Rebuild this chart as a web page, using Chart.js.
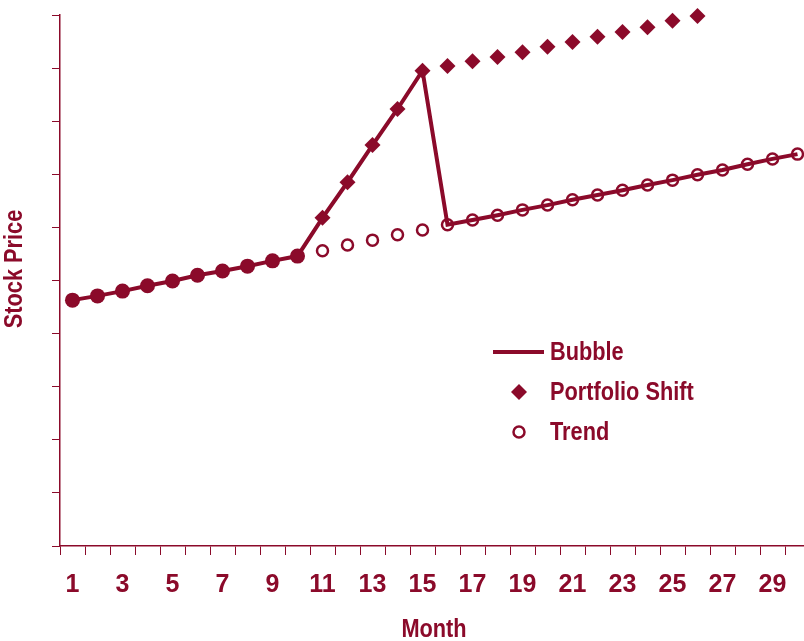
<!DOCTYPE html>
<html lang="en">

<head>
    <meta charset="UTF-8">
    <title>Stock Price Bubble</title>
    <script src="https://cdn.jsdelivr.net/npm/chart.js"></script>
    <style>
        body { margin: 0; overflow: hidden; background: #fff; }
        /* plot runs a few pixels past the right edge, as in the original */
        #wrap { width: 804px; height: 641px; overflow: hidden; }
    </style>
</head>

<body>
    <div id="wrap">
        <canvas id="stockChart" width="810" height="641"></canvas>
    </div>

    <script>
        // chart data
        var months = ['1', '2', '3', '4', '5', '6', '7', '8', '9', '10',
            '11', '12', '13', '14', '15', '16', '17', '18', '19', '20',
            '21', '22', '23', '24', '25', '26', '27', '28', '29', '30'];

        var bubble = [4.63, 4.71, 4.80, 4.90, 4.99, 5.10, 5.18, 5.27, 5.37, 5.46,
            6.18, 6.85, 7.55, 8.23, 8.95, 6.05, 6.14, 6.23, 6.33, 6.42,
            6.52, 6.61, 6.70, 6.80, 6.89, 6.99, 7.08, 7.19, 7.29, 7.38];

        var portfolioShift = [null, null, null, null, null, null, null, null, null, null,
            6.18, 6.85, 7.55, 8.23, 8.95, 9.04, 9.13, 9.21, 9.30, 9.40,
            9.49, 9.59, 9.68, 9.77, 9.89, 9.98, null, null, null, null];

        var trend = [4.63, 4.71, 4.80, 4.90, 4.99, 5.10, 5.18, 5.27, 5.37, 5.46,
            5.56, 5.67, 5.76, 5.86, 5.95, 6.05, 6.14, 6.23, 6.33, 6.42,
            6.52, 6.61, 6.70, 6.80, 6.89, 6.99, 7.08, 7.19, 7.29, 7.38];

        var maroon = '#8B0A2A';
        var fontFamily = "'Liberation Sans Narrow', 'Arial Narrow', 'Liberation Sans', sans-serif";
        var squeeze = 0.87; // no narrow font installed, so text is squeezed by hand

        // filled dots only on the first 10 months of the bubble line
        var bubbleRadius = bubble.map(function (v, i) { return i < 10 ? 7.5 : 0; });

        function narrowText(ctx, text, x, y, rotate) {
            ctx.save();
            ctx.translate(x, y);
            if (rotate) ctx.rotate(-Math.PI / 2);
            ctx.scale(squeeze, 1);
            ctx.fillText(text, 0, 0);
            ctx.restore();
        }

        // axis titles
        var titlesPlugin = {
            id: 'axisTitles',
            afterDraw: function (chart) {
                var ctx = chart.ctx;
                var area = chart.chartArea;
                ctx.save();
                ctx.fillStyle = maroon;
                ctx.font = 'bold 25px ' + fontFamily;
                ctx.textAlign = 'center';
                ctx.textBaseline = 'middle';
                narrowText(ctx, 'Stock Price', 15, 269, true);
                narrowText(ctx, 'Month', (area.left + area.right) / 2 - 1, 630, false);
                ctx.restore();
            }
        };

        // legend inside the plot
        var legendPlugin = {
            id: 'innerLegend',
            afterDraw: function (chart) {
                var ctx = chart.ctx;
                ctx.save();
                ctx.fillStyle = maroon;
                ctx.strokeStyle = maroon;

                ctx.lineWidth = 4;
                ctx.beginPath();
                ctx.moveTo(493, 352);
                ctx.lineTo(544, 352);
                ctx.stroke();

                Chart.helpers.drawPoint(ctx, { pointStyle: 'rectRot', radius: 8, borderWidth: 0 }, 519, 392);

                ctx.lineWidth = 2.5;
                ctx.beginPath();
                ctx.arc(519, 432, 5.5, 0, Math.PI * 2);
                ctx.stroke();

                ctx.font = 'bold 25px ' + fontFamily;
                ctx.textBaseline = 'middle';
                narrowText(ctx, 'Bubble', 550, 353, false);
                narrowText(ctx, 'Portfolio Shift', 550, 393, false);
                narrowText(ctx, 'Trend', 550, 433, false);
                ctx.restore();
            }
        };

        var ctx = document.getElementById('stockChart').getContext('2d');
        var stockChart = new Chart(ctx, {
            type: 'line',
            data: {
                labels: months,
                datasets: [{
                    label: 'Bubble',
                    data: bubble,
                    borderColor: maroon,
                    backgroundColor: maroon,
                    borderWidth: 4,
                    pointRadius: bubbleRadius,
                    pointBorderWidth: 0,
                    tension: 0,
                    order: 1
                }, {
                    label: 'Portfolio Shift',
                    data: portfolioShift,
                    showLine: false,
                    pointStyle: 'rectRot',
                    pointRadius: 8,
                    pointBorderWidth: 0,
                    backgroundColor: maroon,
                    borderColor: maroon,
                    clip: false,
                    order: 0
                }, {
                    label: 'Trend',
                    data: trend,
                    showLine: false,
                    pointStyle: 'circle',
                    pointRadius: 5.5,
                    pointBorderWidth: 2.5,
                    backgroundColor: 'rgba(0,0,0,0)',
                    borderColor: maroon,
                    clip: false,
                    order: 2
                }]
            },
            options: {
                responsive: false,
                animation: false,
                layout: { autoPadding: false, padding: { top: 15, left: 0, right: 0, bottom: 0 } },
                plugins: {
                    legend: { display: false },
                    tooltip: { enabled: false }
                },
                scales: {
                    x: {
                        offset: true,
                        border: { display: true, color: maroon, width: 1.5 },
                        grid: {
                            offset: true,
                            drawOnChartArea: false,
                            drawTicks: true,
                            tickLength: 9,
                            tickColor: maroon
                        },
                        ticks: {
                            autoSkip: false,
                            maxRotation: 0,
                            padding: 15,
                            color: maroon,
                            font: { family: fontFamily, size: 25, weight: 'bold' },
                            callback: function (val, index) {
                                return index % 2 === 0 ? this.getLabelForValue(val) : '';
                            }
                        },
                        afterFit: function (scale) {
                            scale.height = 95;
                            scale.paddingLeft = 0;
                            scale.paddingRight = 0;
                        }
                    },
                    y: {
                        min: 0,
                        max: 10,
                        border: { display: true, color: maroon, width: 1.5 },
                        grid: {
                            drawOnChartArea: false,
                            drawTicks: true,
                            tickLength: 8,
                            tickColor: maroon
                        },
                        ticks: { stepSize: 1, display: false },
                        afterFit: function (scale) { scale.width = 60; }
                    }
                }
            },
            plugins: [titlesPlugin, legendPlugin]
        });
    </script>
</body>

</html>
